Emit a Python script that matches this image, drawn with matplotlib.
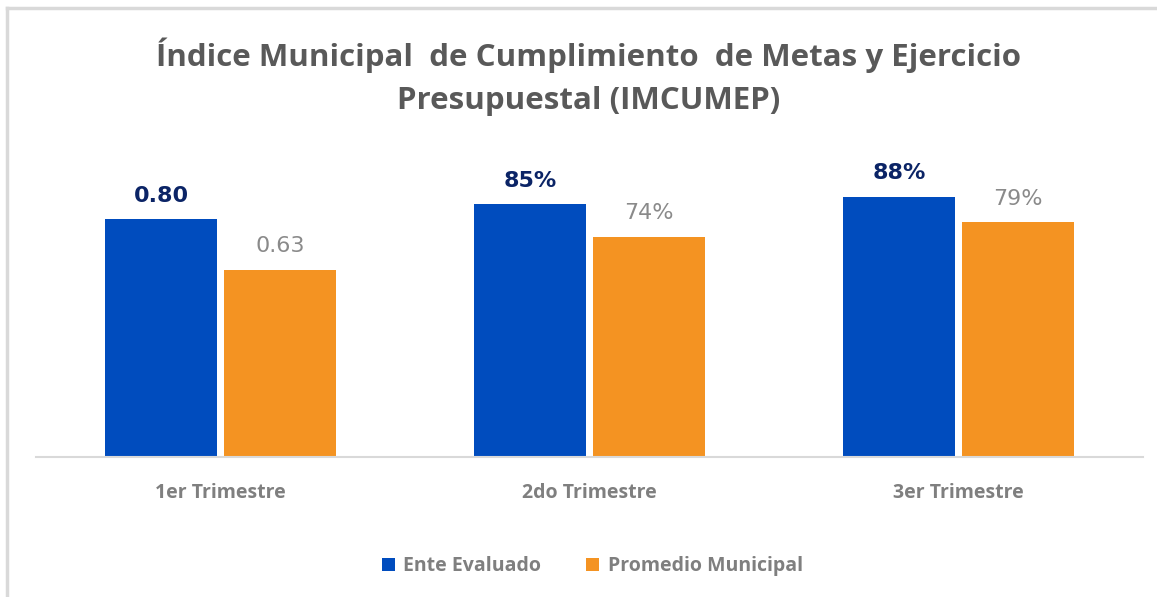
import matplotlib
matplotlib.use('Agg')
import matplotlib.pyplot as plt
import numpy as np

categories = ['1er Trimestre', '2do Trimestre', '3er Trimestre']
ente = [0.80, 0.85, 0.875]
promedio = [0.63, 0.74, 0.79]
ente_labels = ['0.80', '85%', '88%']
promedio_labels = ['0.63', '74%', '79%']
series_names = ['Ente Evaluado', 'Promedio Municipal']

blue = '#004CBE'
orange = '#F49322'
navy = '#0B2466'
gray = '#7F7F7F'

fig = plt.figure(figsize=(11.57, 5.97), dpi=100)
ax = fig.add_axes([36/1157, 140/597, 1107/1157, 297.5/597])

x = np.arange(len(categories))
w = 0.305
gap = 0.0085
b1 = ax.bar(x - w/2 - gap, ente, w, color=blue, label=series_names[0])
b2 = ax.bar(x + w/2 + gap, promedio, w, color=orange, label=series_names[1])

for rect, lab in zip(b1, ente_labels):
    ax.text(rect.get_x() + rect.get_width()/2, rect.get_height() + 0.045, lab,
            ha='center', va='bottom', fontsize=16, fontweight='bold', color=navy,
            family='DejaVu Sans')
for rect, lab in zip(b2, promedio_labels):
    ax.text(rect.get_x() + rect.get_width()/2, rect.get_height() + 0.045, lab,
            ha='center', va='bottom', fontsize=16, color='#8A8A8A',
            family='DejaVu Sans')

ax.set_xlim(-0.5, 2.5)
ax.set_ylim(0, 1.0)
ax.set_yticks([])
for s in ['top', 'right', 'left']:
    ax.spines[s].set_visible(False)
ax.spines['bottom'].set_color('#D9D9D9')
ax.spines['bottom'].set_linewidth(1.5)
ax.set_xticks(x)
ax.set_xticklabels(categories, fontsize=14, color=gray, family='Open Sans',
                   fontweight='bold')
ax.tick_params(axis='x', length=0, pad=19)

fig.text(0.509, 0.938, 'Índice Municipal  de Cumplimiento  de Metas y Ejercicio\nPresupuestal (IMCUMEP)',
         ha='center', va='top', fontsize=22.5, fontweight='bold', color='#595959',
         family='Open Sans', linespacing=1.6)

leg = fig.legend(loc='center', bbox_to_anchor=(0.512, 0.052), ncol=2, frameon=False,
                 handlelength=0.65, handleheight=0.65, columnspacing=2.3,
                 handletextpad=0.45, prop={'family': 'Open Sans', 'size': 14, 'weight': 'bold'})
for t in leg.get_texts():
    t.set_color(gray)

# outer frame (top and left edges only)
fig.add_artist(plt.Line2D([7/1157, 1], [1 - 8/597, 1 - 8/597], color='#D9D9D9', lw=2.5))
fig.add_artist(plt.Line2D([7/1157, 7/1157], [0, 1 - 8/597], color='#D9D9D9', lw=2.5))

plt.savefig('out.png', dpi=100)
